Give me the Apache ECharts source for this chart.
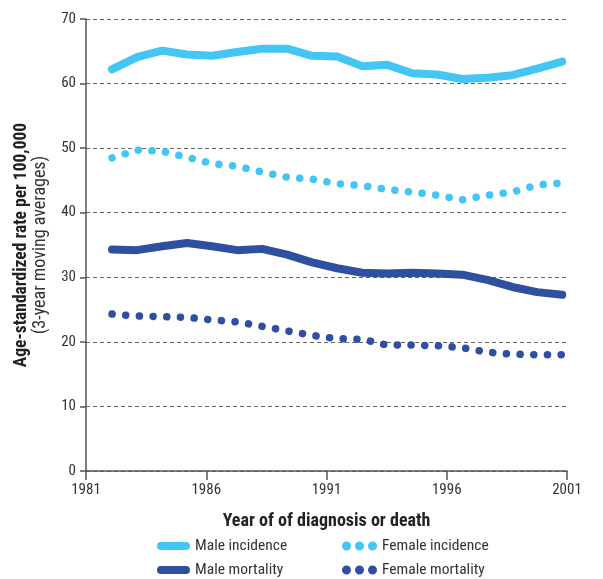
<!DOCTYPE html>
<html>
<head>
<meta charset="utf-8">
<script src="https://cdn.jsdelivr.net/npm/echarts@6/dist/echarts.min.js"></script>
<style>
html,body{margin:0;padding:0;background:#fff;}
#chart{width:603px;height:579px;}
</style>
</head>
<body>
<div id="chart"></div>
<script>
const years = [1982,1983,1984,1985,1986,1987,1988,1989,1990,1991,1992,1993,1994,1995,1996,1997,1998,1999,2000];
const maleIncidence   = [62.2,64.1,65.1,64.5,64.3,64.9,65.4,65.4,64.3,64.2,62.7,62.9,61.6,61.4,60.7,60.9,61.3,62.3,63.4];
const femaleIncidence = [48.5,49.7,49.5,48.6,47.6,47.2,46.3,45.5,45.2,44.5,44.2,43.6,43.2,42.7,42.0,42.7,43.2,44.3,44.6];
const maleMortality   = [34.3,34.2,34.8,35.3,34.8,34.2,34.4,33.5,32.3,31.4,30.7,30.6,30.7,30.6,30.4,29.6,28.5,27.7,27.3];
const femaleMortality = [24.3,24.0,23.9,23.8,23.4,23.1,22.4,21.7,21.0,20.5,20.4,19.5,19.5,19.4,19.1,18.4,18.1,18.0,18.0];
const xTickMin = 1981, xTickMax = 2001, xTickStep = 5;
const yMin = 0, yMax = 70, yStep = 10;

const LIGHT = '#43C6F3';
const DARK = '#2F4FA0';
const FONT = "'Liberation Sans Narrow','Roboto Condensed','DejaVu Sans Condensed','Liberation Sans',sans-serif";

const solidIcon = 'path://M4,0 L29,0 A4,4 0 0 1 29,8 L4,8 A4,4 0 0 1 4,0 Z';
const dotsIcon = 'path://M0,4.5 A4.5,4.5 0 1 1 9,4.5 A4.5,4.5 0 1 1 0,4.5 Z M13,4.5 A4.5,4.5 0 1 1 22,4.5 A4.5,4.5 0 1 1 13,4.5 Z M26,4.5 A4.5,4.5 0 1 1 35,4.5 A4.5,4.5 0 1 1 26,4.5 Z';

function pairs(vals){ return years.map((y,i)=>[y, vals[i]]); }

function legendItem(name, icon, left, top, w, h, gap){
  return {
    orient:'horizontal', left:left, top:top, itemWidth:w, itemHeight:h, itemTextGap:gap, padding:0,
    textStyle:{fontFamily:FONT, fontSize:15.5, color:'#333', lineHeight:16},
    data:[{name:name, icon:icon}]
  };
}

const chart = echarts.init(document.getElementById('chart'), null, {renderer:'canvas'});

chart.setOption({
  animation:false,
  backgroundColor:'#fff',
  grid:{left:86, right:36, top:19, bottom:108, containLabel:false},
  xAxis:[{
    type:'value', min:xTickMin, max:xTickMax, interval:xTickStep,
    axisLine:{show:true, lineStyle:{color:'#555', width:1.5}},
    axisTick:{show:true, length:9, lineStyle:{color:'#555', width:1.5}},
    axisLabel:{margin:12, fontSize:15, fontFamily:FONT, color:'#333', formatter: v=>String(v)},
    splitLine:{show:false},
    name:'Year of of diagnosis or death', nameLocation:'middle', nameGap:41,
    nameTextStyle:{fontFamily:FONT, fontWeight:'bold', fontSize:18, color:'#222'}
  },{
    type:'value', min:1980.96, max:2000.19, show:false
  }],
  yAxis:{
    type:'value', min:yMin, max:yMax, interval:yStep,
    axisLine:{show:true, lineStyle:{color:'#555', width:1.5}},
    axisTick:{show:true, length:6, lineStyle:{color:'#555', width:1.5}},
    axisLabel:{margin:10, fontSize:15, fontFamily:FONT, color:'#333'},
    splitLine:{show:true, lineStyle:{color:'#666', width:1, type:[4,3]}},
    name:'{b|Age-standardized rate per 100,000}\n{n|(3-year moving averages)}',
    nameLocation:'middle', nameGap:36, nameRotate:90,
    nameTextStyle:{
      fontFamily:FONT, color:'#222', align:'center',
      rich:{
        b:{fontFamily:FONT, fontWeight:'bold', fontSize:17.5, lineHeight:19, color:'#222'},
        n:{fontFamily:FONT, fontSize:18, lineHeight:19, color:'#333'}
      }
    }
  },
  legend:[
    legendItem('Male incidence', solidIcon, 157, 538, 33, 8, 12),
    legendItem('Male mortality', solidIcon, 157, 562, 33, 8, 12),
    legendItem('Female incidence', dotsIcon, 342, 538, 35, 9, 11),
    legendItem('Female mortality', dotsIcon, 342, 562, 35, 9, 11)
  ],
  series:[
    {name:'Male incidence', type:'line', xAxisIndex:1, data:pairs(maleIncidence), showSymbol:false, symbol:'none',
      itemStyle:{color:LIGHT}, lineStyle:{color:LIGHT, width:8, cap:'round', join:'round'}},
    {name:'Female incidence', type:'line', xAxisIndex:1, data:pairs(femaleIncidence), showSymbol:false, symbol:'none',
      itemStyle:{color:LIGHT}, lineStyle:{color:LIGHT, width:7.5, type:[0.1,13.6], cap:'round', join:'round'}},
    {name:'Male mortality', type:'line', xAxisIndex:1, data:pairs(maleMortality), showSymbol:false, symbol:'none',
      itemStyle:{color:DARK}, lineStyle:{color:DARK, width:8, cap:'round', join:'round'}},
    {name:'Female mortality', type:'line', xAxisIndex:1, data:pairs(femaleMortality), showSymbol:false, symbol:'none',
      itemStyle:{color:DARK}, lineStyle:{color:DARK, width:7.5, type:[0.1,13.6], cap:'round', join:'round'}}
  ]
});
</script>
</body>
</html>
